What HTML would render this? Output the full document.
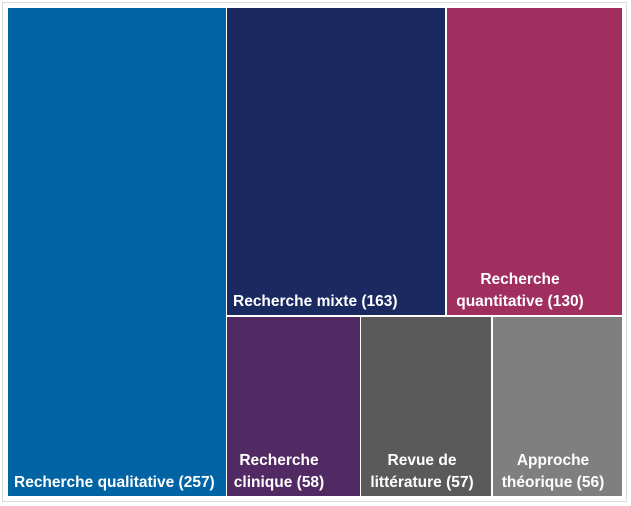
<!DOCTYPE html>
<html><head><style>
body{margin:0;width:631px;height:506px;background:#fff;position:relative;overflow:hidden;font-family:"Liberation Sans",sans-serif}
.frame{position:absolute;left:2px;top:2px;width:625px;height:500px;border:1px solid #d9d9d9;box-sizing:border-box}
.r{position:absolute;color:#fff;font-weight:bold;font-size:15.5px;line-height:22px}
.l{position:absolute;text-align:center;white-space:nowrap}
</style></head><body>
<div class="frame"></div>
<div class="r" style="left:8px;top:8px;width:218px;height:488px;background:#0063a3"><div class="l" style="left:6px;bottom:2px">Recherche qualitative (257)</div></div>
<div class="r" style="left:227px;top:8px;width:218px;height:307px;background:#1a2a60"><div class="l" style="left:6px;bottom:2px">Recherche mixte (163)</div></div>
<div class="r" style="left:447px;top:8px;width:175px;height:307px;background:#a02f60"><div class="l" style="left:6px;bottom:2px;width:134px">Recherche<br>quantitative (130)</div></div>
<div class="r" style="left:227px;top:317px;width:133px;height:179px;background:#522a63"><div class="l" style="left:6px;bottom:2px;width:92px">Recherche<br>clinique (58)</div></div>
<div class="r" style="left:361px;top:317px;width:130px;height:179px;background:#5a5a5a"><div class="l" style="left:0;bottom:2px;width:122px">Revue de<br>littérature (57)</div></div>
<div class="r" style="left:493px;top:317px;width:129px;height:179px;background:#7f7f7f"><div class="l" style="left:0;bottom:2px;width:120px">Approche<br>théorique (56)</div></div>
</body></html>
